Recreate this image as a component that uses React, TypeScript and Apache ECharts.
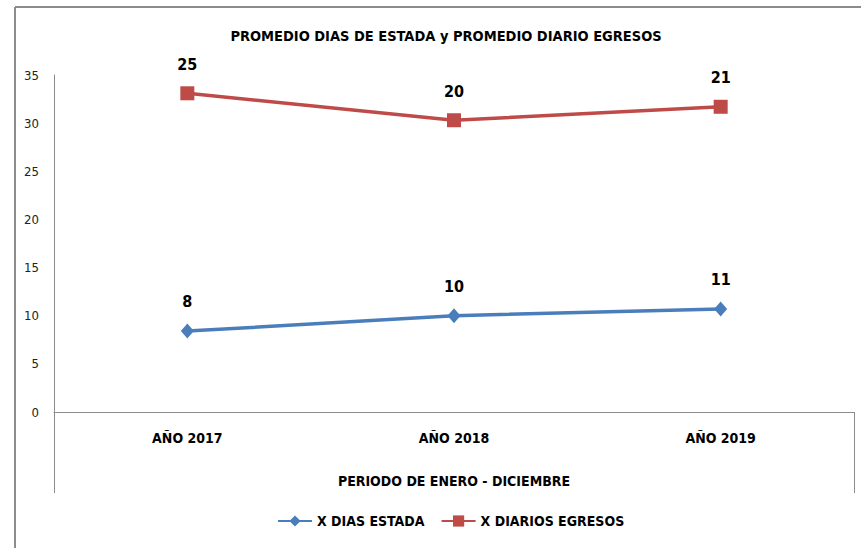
import React, { useEffect, useRef } from "react";
import * as echarts from "echarts";

const categories = ["AÑO 2017", "AÑO 2018", "AÑO 2019"];
const diasEstada = [8.4, 10.0, 10.7];
const diasEstadaLabels = ["8", "10", "11"];
const diariosEgresos = [33.1, 30.3, 31.7];
const diariosEgresosLabels = ["25", "20", "21"];
const yTicks = { min: 0, max: 35, interval: 5 };

const FONT = "'Liberation Sans Narrow', 'DejaVu Sans Condensed', 'Noto Sans', sans-serif";

export default function App() {
  const ref = useRef<HTMLDivElement>(null);
  useEffect(() => {
    document.body.style.margin = "0";
    const chart = echarts.init(ref.current!, null, { renderer: "svg" });
    const gray = "#8c8c8c";
    chart.setOption({
      animation: false,
      backgroundColor: "#ffffff",
      textStyle: { fontFamily: FONT },
      title: {
        text: "PROMEDIO DIAS DE ESTADA y PROMEDIO DIARIO EGRESOS",
        left: 441,
        textAlign: "center",
        top: 23,
        textStyle: { fontFamily: FONT, fontSize: 14.5, fontWeight: "bold", color: "#000" },
      },
      grid: { left: 54, right: 7, top: 75, bottom: 136 },
      xAxis: {
        type: "category",
        data: categories,
        boundaryGap: true,
        axisLine: { show: true, lineStyle: { color: gray, width: 1 } },
        axisTick: { show: false },
        axisLabel: {
          margin: 19,
          fontFamily: FONT,
          fontSize: 14,
          fontWeight: "bold",
          color: "#000",
        },
        name: "PERIODO DE ENERO - DICIEMBRE",
        nameLocation: "middle",
        nameGap: 62,
        nameTextStyle: { fontFamily: FONT, fontSize: 14, fontWeight: "bold", color: "#000" },
      },
      yAxis: {
        type: "value",
        min: yTicks.min,
        max: yTicks.max,
        interval: yTicks.interval,
        splitLine: { show: false },
        axisLine: { show: true, lineStyle: { color: gray, width: 1 } },
        axisTick: { show: false },
        axisLabel: { margin: 15, fontFamily: FONT, fontSize: 13, color: "#222" },
      },
      legend: {
        bottom: 15,
        left: 272,
        itemWidth: 34,
        itemHeight: 14,
        itemGap: 16,
        textStyle: { fontFamily: FONT, fontSize: 14, fontWeight: "bold", color: "#000" },
        data: ["X DIAS ESTADA", "X DIARIOS EGRESOS"],
      },
      graphic: [
        { type: "line", shape: { x1: 15, y1: 7, x2: 861, y2: 7 }, style: { stroke: gray, lineWidth: 2 } },
        { type: "line", shape: { x1: 15, y1: 7, x2: 15, y2: 548 }, style: { stroke: gray, lineWidth: 2 } },
        { type: "line", shape: { x1: 54.5, y1: 412, x2: 54.5, y2: 493 }, style: { stroke: gray, lineWidth: 1 } },
        { type: "line", shape: { x1: 854.5, y1: 412, x2: 854.5, y2: 493 }, style: { stroke: gray, lineWidth: 1 } },
      ],
      series: [
        {
          name: "X DIAS ESTADA",
          type: "line",
          data: diasEstada,
          symbol: "diamond",
          symbolSize: [13, 15],
          itemStyle: { color: "#4A7EBB" },
          lineStyle: { color: "#4A7EBB", width: 3.5 },
          label: {
            show: true,
            position: "top",
            distance: 14,
            formatter: (p: any) => diasEstadaLabels[p.dataIndex],
            fontFamily: FONT,
            fontSize: 16,
            fontWeight: "bold",
            color: "#000",
          },
        },
        {
          name: "X DIARIOS EGRESOS",
          type: "line",
          data: diariosEgresos,
          symbol: "rect",
          symbolSize: 14,
          itemStyle: { color: "#BE4B48" },
          lineStyle: { color: "#BE4B48", width: 3.5 },
          label: {
            show: true,
            position: "top",
            distance: 14,
            formatter: (p: any) => diariosEgresosLabels[p.dataIndex],
            fontFamily: FONT,
            fontSize: 16,
            fontWeight: "bold",
            color: "#000",
          },
        },
      ],
    });
    return () => chart.dispose();
  }, []);
  return <div ref={ref} style={{ width: 861, height: 548 }} />;
}
